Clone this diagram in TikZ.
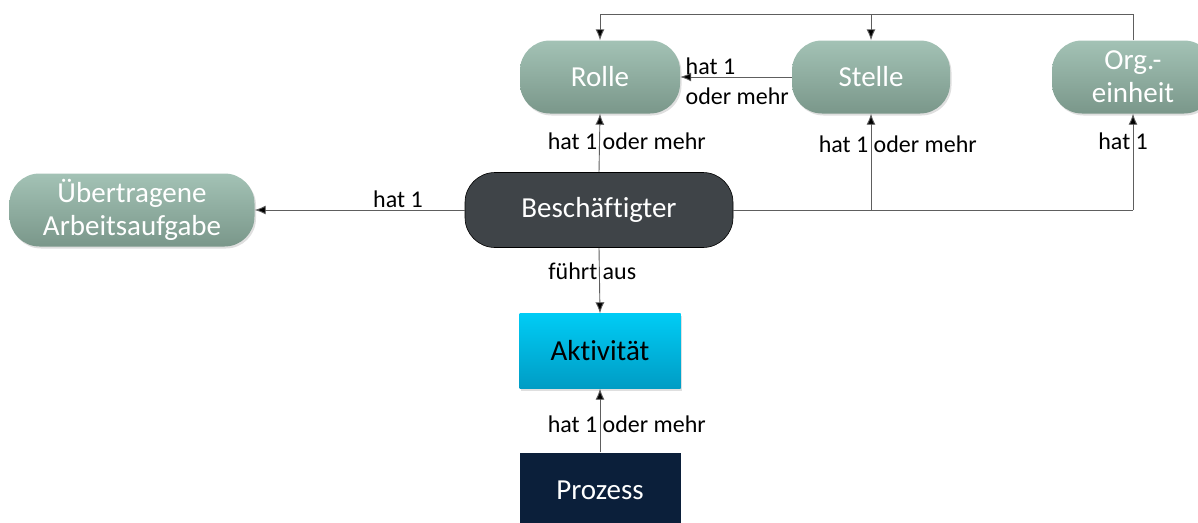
\documentclass[tikz,border=0pt]{standalone}
\usepackage{fontspec}
\setmainfont{Carlito}[Ligatures={NoCommon}]
\usetikzlibrary{arrows.meta,shadows}
\definecolor{sgtop}{HTML}{A3C2B5}
\definecolor{sgbot}{HTML}{7A978A}
\definecolor{dark}{HTML}{3F4448}
\definecolor{cytop}{HTML}{00CCF5}
\definecolor{cybot}{HTML}{009CC4}
\definecolor{navy}{HTML}{0B1F3A}
\definecolor{conn}{HTML}{5E5E5E}
\tikzset{
  pill/.style={rounded corners=30pt, minimum height=73pt, align=center, text=white,
    font=\fontsize{29}{33}\selectfont, inner sep=2pt,
    top color=sgtop, bottom color=sgbot, draw=none,
    drop shadow={shadow xshift=1.5pt, shadow yshift=-2pt, opacity=0.25}},
  darkpill/.style={rounded corners=30pt, minimum height=75pt, minimum width=268pt, align=center, text=white,
    font=\fontsize{29}{33}\selectfont, fill=dark, draw=black, line width=0.6pt},
  boxnode/.style={minimum height=75pt, minimum width=161pt, font=\fontsize{29}{33}\selectfont},
  conline/.style={draw=conn, line width=0.9pt},
  arr/.style={conline, -{Latex[length=11pt,width=9pt,fill=black]}},
  lbl/.style={font=\fontsize{24}{26}\selectfont, inner sep=1.5pt, text=black,
    text height=16pt, text depth=5pt, yshift=-3pt}
}
\begin{document}
\begin{tikzpicture}[x=1pt,y=-1pt]
\useasboundingbox (0,0) rectangle (1198,522);
% nodes
\node[pill, minimum width=160pt] (rolle) at (600,77) {Rolle};
\node[pill, minimum width=158pt] (stelle) at (871,77) {Stelle};
\node[pill, minimum width=162pt] (org) at (1133,77) {Org.-\\einheit};
\node[pill, minimum width=245pt] (ueb) at (132,210) {Übertragene\\Arbeitsaufgabe};
\node[darkpill] (besch) at (599,210) {Beschäftigter};
\node[boxnode, top color=cytop, bottom color=cybot, text=black,
  drop shadow={shadow xshift=1.5pt, shadow yshift=-2pt, opacity=0.25}] (akt) at (600,351) {Aktivität};
\node[boxnode, fill=navy, text=white, minimum height=75pt] (proz) at (600,490) {Prozess};
% junctions
\coordinate (topR) at (1133,14);
\coordinate (topS) at (871,14);
\coordinate (topL) at (600,14);
\coordinate (junS) at (871,210);
\coordinate (junO) at (1133,210);
% connectors
\draw[arr] (org.north) -- (topR) -- (topL) -- (rolle.north);
\draw[arr] (topS) -- (stelle.north);
\draw[arr] (stelle.west) -- (rolle.east);
\draw[arr] (besch.north) -- (rolle.south);
\draw[conline] (besch.east) -- (junO);
\draw[arr] (junS) -- (stelle.south);
\draw[arr] (junO) -- (org.south);
\draw[arr] (besch.west) -- (ueb.east);
\draw[arr] (besch.south) -- (akt.north);
\draw[arr] (proz.north) -- (akt.south);
% labels
\node[lbl, anchor=east] at (599,141) {hat 1};
\node[lbl, anchor=west] at (601,141) {oder mehr};
\node[lbl, anchor=west] at (684,66) {hat 1};
\node[lbl, anchor=west] at (684,96) {oder mehr};
\node[lbl, anchor=east] at (870,144) {hat 1};
\node[lbl, anchor=west] at (872,144) {oder mehr};
\node[lbl, anchor=east] at (1132,141) {hat};
\node[lbl, anchor=west] at (1134,141) {1};
\node[lbl] at (398,199) {hat 1};
\node[lbl, anchor=east] at (599,271) {führt};
\node[lbl, anchor=west] at (601,271) {aus};
\node[lbl, anchor=east] at (599,424) {hat 1};
\node[lbl, anchor=west] at (601,424) {oder mehr};
\end{tikzpicture}
\end{document}
